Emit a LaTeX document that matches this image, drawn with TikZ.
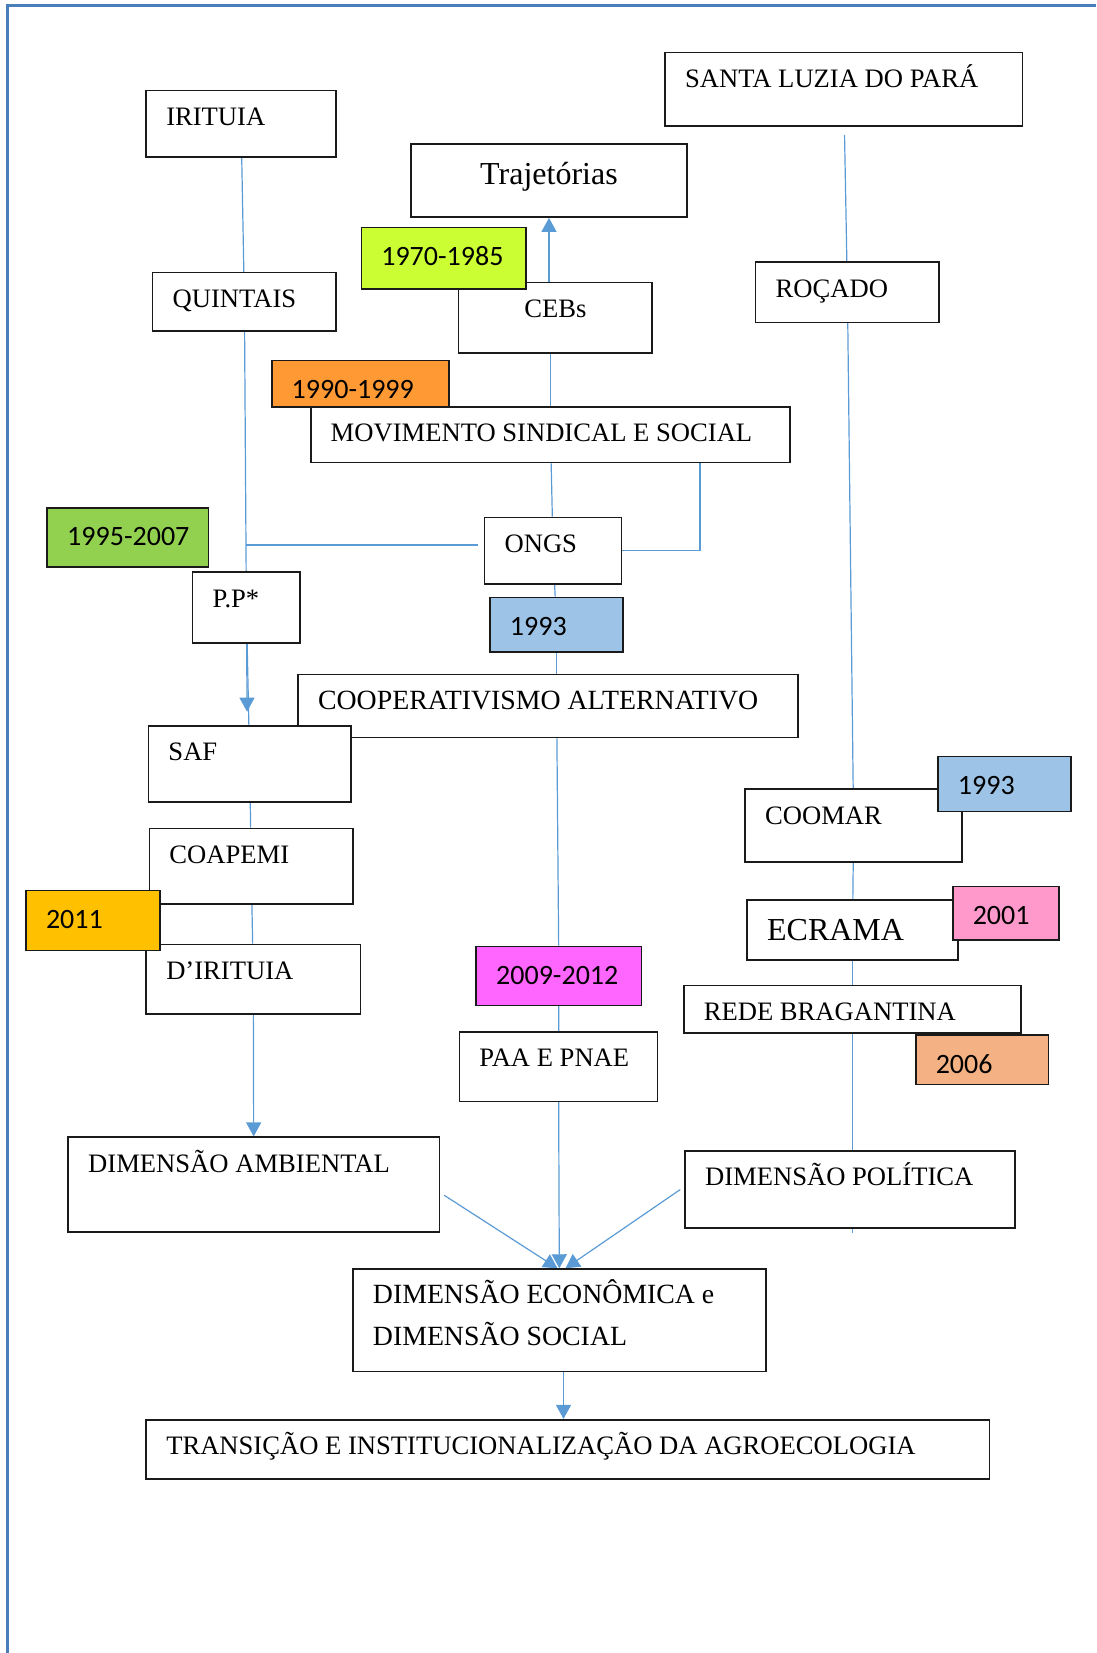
\documentclass[tikz,border=0pt]{standalone}
\usepackage{fontspec}
\setmainfont{Liberation Serif}
\newfontfamily\yearfont{Carlito}
\usepackage{xcolor}
\usepackage{tikz}
\usetikzlibrary{arrows.meta,backgrounds}
\definecolor{cFrame}{HTML}{4A7EBB}
\definecolor{cLine}{HTML}{5B9BD5}
\definecolor{cInk}{HTML}{1A1A1A}
\definecolor{cLime}{HTML}{CCFF33}
\definecolor{cOrange}{HTML}{FF9933}
\definecolor{cGreen}{HTML}{92D050}
\definecolor{cSky}{HTML}{9DC3E6}
\definecolor{cGold}{HTML}{FFC000}
\definecolor{cPink}{HTML}{FF99CC}
\definecolor{cMagenta}{HTML}{FF66FF}
\definecolor{cPeach}{HTML}{F4B183}
\tikzset{
  tbox/.style={draw=cInk,fill=white,line width=0.8pt,anchor=north west,align=flush left,
    font={\fontsize{13.3}{21}\selectfont},inner xsep=10pt,inner ysep=0pt,text height=17.4pt},
  widebox/.style={tbox,font={\fontsize{13.9}{21}\selectfont}},
  bigbox/.style={tbox,font={\fontsize{16}{19}\selectfont},text height=20pt},
  ybox/.style={tbox,fill=#1,font={\yearfont\fontsize{14}{17}\selectfont\exhyphenpenalty=10000},text height=19pt},
  ln/.style={draw=cLine,line width=0.6pt},
  arr/.style={ln,-{Triangle[length=7pt,width=7.5pt]}},
  frame/.style={draw=cFrame,line width=1.5pt},
}

\begin{document}
\begin{tikzpicture}[x=1pt,y=-1pt]
  \useasboundingbox (0,0) rectangle (548,826.2);
  \draw[frame] (548,3.0) -- (3.75,3.0) -- (3.75,826.2);

  % left column: Irituia
  \node[tbox,text width=74.8pt,text depth=15.8pt] (irituia) at (72.7,44.8) {IRITUIA};
  \node[tbox,text width=71.7pt,text depth=11.6pt] (quintais) at (75.9,135.9) {QUINTAIS};
  \node[ybox=cGreen,text width=60.6pt,text depth=10.5pt] (y1995) at (23.2,253.4) {1995-2007};
  \node[tbox,text width=33.7pt,text depth=17.9pt] (pp) at (95.9,285.6) {P.P*};

  % centre column
  \node[bigbox,align=center,text width=118pt,text depth=16.4pt] (traj) at (205.0,71.7) {Trajetórias};
  \node[tbox,align=center,text width=76.9pt,text depth=17.9pt] (cebs) at (228.7,140.7) {CEBs};
  \node[ybox=cLime,text width=62.2pt,text depth=11.6pt] (y1970) at (180.2,113.3) {1970-1985};
  \node[tbox,text width=219.7pt,text depth=10.5pt] (mov) at (154.9,202.9) {MOVIMENTO SINDICAL E SOCIAL};
  \node[ybox=cOrange,text width=68.5pt,text depth=4.2pt] (y1990) at (135.4,179.7) {1990-1999};
  \node[tbox,text width=48.5pt,text depth=15.8pt] (ongs) at (241.8,258.2) {ONGS};
  \node[ybox=cSky,text width=46.4pt,text depth=8.4pt] (y1993a) at (244.5,298.2) {1993};
  \node[widebox,text width=229.8pt,text depth=14.2pt] (coop) at (148.6,336.7) {COOPERATIVISMO ALTERNATIVO};
  \node[tbox,text width=81.2pt,text depth=20.5pt] (saf) at (73.8,362.5) {SAF};
  \node[tbox,text width=81.7pt,text depth=20.5pt] (coapemi) at (74.3,413.6) {COAPEMI};
  \node[tbox,text width=87pt,text depth=17.4pt] (dirituia) at (72.7,471.6) {D’IRITUIA};
  \node[ybox=cGold,text width=46.9pt,text depth=11pt] (y2011) at (12.6,444.7) {2011};
  \node[ybox=cMagenta,text width=62.7pt,text depth=10.5pt] (y2009) at (237.6,472.6) {2009-2012};
  \node[tbox,text width=79.1pt,text depth=17.4pt] (paa) at (229.2,515.3) {PAA E PNAE};

  % right column: Santa Luzia
  \node[tbox,text width=158.6pt,text depth=19.5pt] (santa) at (332.0,25.8) {SANTA LUZIA DO PARÁ};
  \node[tbox,text width=71.7pt,text depth=12.6pt] (rocado) at (377.3,130.7) {ROÇADO};
  \node[tbox,text width=88.5pt,text depth=19pt] (coomar) at (372.0,394.1) {COOMAR};
  \node[ybox=cSky,text width=46.4pt,text depth=8.4pt] (y1993b) at (468.4,377.8) {1993};
  \node[bigbox,text width=85.4pt,text depth=10pt] (ecrama) at (373.0,449.5) {ECRAMA};
  \node[ybox=cPink,text width=33.2pt,text depth=7.9pt] (y2001) at (475.8,442.6) {2001};
  \node[tbox,text width=148.6pt,text depth=6.3pt] (rede) at (341.4,492.1) {REDE BRAGANTINA};
  \node[ybox=cPeach,text width=46.4pt,text depth=5.8pt] (y2006) at (457.3,516.9) {2006};

  % dimensions
  \node[tbox,text width=165.5pt,text depth=30pt] (dimamb) at (33.7,568.0) {DIMENSÃO AMBIENTAL};
  \node[tbox,text width=144.9pt,text depth=21.1pt] (dimpol) at (342.0,574.9) {DIMENSÃO POLÍTICA};
  \node[widebox,text width=186.5pt,text depth=33.7pt] (dimecon) at (176.0,633.9) {DIMENSÃO ECONÔMICA e\\DIMENSÃO SOCIAL};
  \node[tbox,text width=401.5pt,text depth=12.1pt] (trans) at (72.7,709.2) {TRANSIÇÃO E INSTITUCIONALIZAÇÃO DA AGROECOLOGIA};

  \coordinate (safin) at (123.5,355.7);
  \coordinate (poltick) at ([yshift=-2pt]dimpol.south -| rede.south);

  \begin{scope}[on background layer]
    \draw[ln] (irituia) -- (quintais);
    \draw[ln] (quintais) -- (pp);
    \draw[ln] ([xshift=-3pt,yshift=2.8pt]ongs.west) -- ([yshift=2.8pt]ongs.west -| pp.north);
    \draw[ln] (pp) -- (saf);
    \draw[arr] (pp) -- (safin);
    \draw[ln] (saf) -- (coapemi);
    \draw[ln] (coapemi) -- (dirituia);
    \draw[arr] (dirituia) -- (dimamb);

    \draw[arr] (traj.south |- cebs.north) -- (traj.south);
    \draw[ln] (cebs.south -| mov.north) -- (mov.north);
    \draw[ln] (mov) -- (ongs);
    \draw[ln] (ongs.east) -| ([xshift=-45.5pt]mov.south east);
    \draw[ln] (ongs) -- (y1993a);
    \draw[ln] (y1993a.south) -- (y1993a.south |- coop.north);
    \draw[ln] ([xshift=-1pt]y2009.north |- coop.south) -- (y2009);
    \draw[ln] (y2009) -- (paa);
    \draw[arr] (paa) -- (dimecon);

    \draw[ln,shorten <=4pt] (santa) -- (rocado);
    \draw[ln] (rocado) -- (coomar);
    \draw[ln] (coomar) -- (ecrama);
    \draw[ln] (ecrama) -- (rede);
    \draw[ln] (rede) -- (poltick);

    \draw[arr] ([xshift=2pt,yshift=-5.3pt]dimamb.east) -- ([xshift=-1pt]dimecon.north);
    \draw[arr] ([xshift=-2pt]dimpol.west) -- ([xshift=3pt]dimecon.north);
    \draw[arr] ([xshift=2pt]dimecon.south) -- ([xshift=2pt]dimecon.south |- trans.north);
  \end{scope}
\end{tikzpicture}
\end{document}
